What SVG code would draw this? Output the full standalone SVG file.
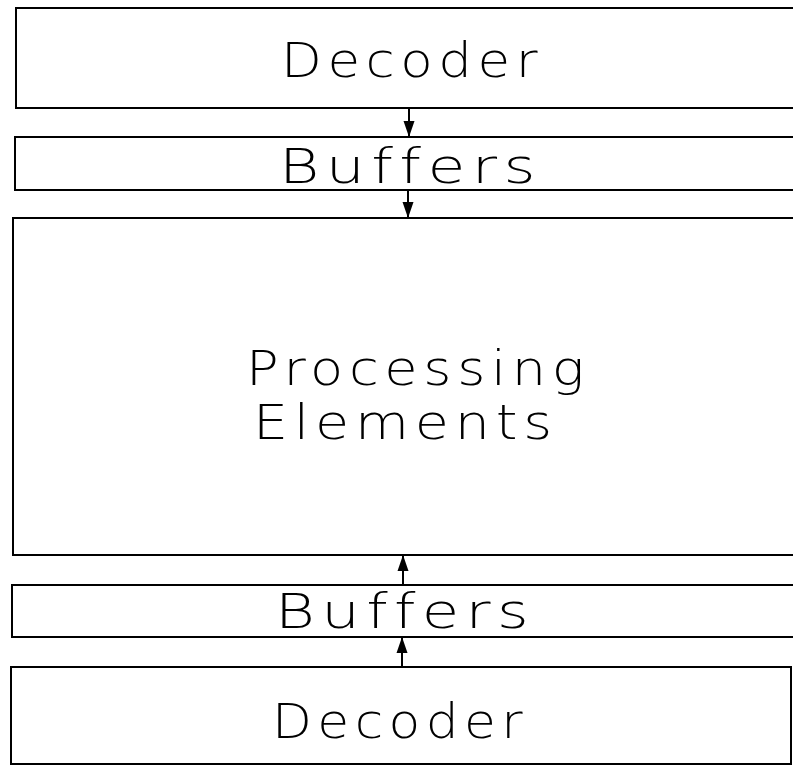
<svg xmlns="http://www.w3.org/2000/svg" width="793" height="768" viewBox="0 0 793 768">
  <style>
    .box { fill: none; stroke: #000; stroke-width: 2; }
    .lbl { font-family: "DejaVu Sans", "Liberation Sans", sans-serif; font-weight: 200; font-size: 48px; letter-spacing: 5px; fill: #000; font-variant-ligatures: none; }
    .wire { stroke: #000; stroke-width: 2; fill: none; }
  </style>
  <defs>
    <marker id="head" viewBox="0 0 16 12" refX="16" refY="6" markerWidth="16" markerHeight="12" markerUnits="userSpaceOnUse" orient="auto">
      <path d="M0,0.5 L16,6 L0,11.5 Z" fill="#000"/>
    </marker>
  </defs>
  <rect width="793" height="768" fill="#fff"/>

  <g id="decoder-top">
    <rect class="box" x="16" y="8" width="800" height="100"/>
    <text class="lbl" x="281" y="77" textLength="262" lengthAdjust="spacingAndGlyphs">Decoder</text>
  </g>
  <g id="buffers-top">
    <rect class="box" x="15" y="137" width="800" height="53"/>
    <text class="lbl" x="279" y="183" textLength="263" lengthAdjust="spacingAndGlyphs">Buffers</text>
  </g>
  <g id="processing-elements">
    <rect class="box" x="13" y="218" width="800" height="337"/>
    <text class="lbl" x="246" y="385" textLength="344" lengthAdjust="spacingAndGlyphs">Processing</text>
    <text class="lbl" x="253" y="439" textLength="305" lengthAdjust="spacingAndGlyphs">Elements</text>
  </g>
  <g id="buffers-bottom">
    <rect class="box" x="12" y="585" width="800" height="52"/>
    <text class="lbl" x="275" y="628" textLength="260" lengthAdjust="spacingAndGlyphs">Buffers</text>
  </g>
  <g id="decoder-bottom">
    <rect class="box" x="11" y="667" width="780" height="97"/>
    <text class="lbl" x="272" y="738" textLength="256" lengthAdjust="spacingAndGlyphs">Decoder</text>
  </g>

  <g id="connectors">
    <line class="wire" x1="409" y1="108" x2="409" y2="137" marker-end="url(#head)"/>
    <line class="wire" x1="408" y1="190" x2="408" y2="218" marker-end="url(#head)"/>
    <line class="wire" x1="403" y1="585" x2="403" y2="555" marker-end="url(#head)"/>
    <line class="wire" x1="402" y1="667" x2="402" y2="637" marker-end="url(#head)"/>
  </g>
</svg>
